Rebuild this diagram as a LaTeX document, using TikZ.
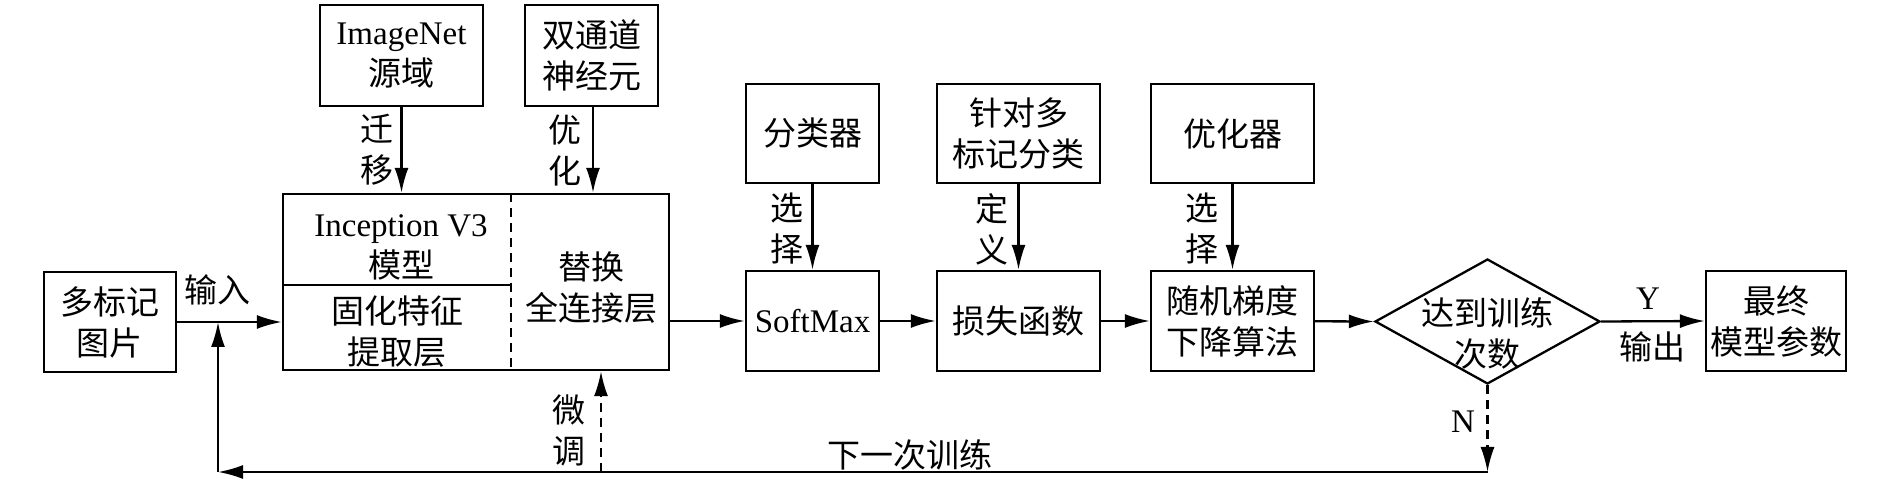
\documentclass[tikz,border=0pt]{standalone}
\usepackage{fontspec}
\setmainfont{Liberation Serif}
\newfontfamily\cjk{Noto Sans CJK SC}
\usetikzlibrary{arrows.meta,shapes.geometric}

\begin{document}
\begin{tikzpicture}[x=0.5pt,y=-0.5pt,>={Latex[length=12.5pt,width=7pt]},line join=miter]
\useasboundingbox[fill=white] (0,0) rectangle (1890,480);
\tikzset{box/.style={draw=black,line width=1.15pt,align=center,inner sep=0pt,font=\fontsize{16.5}{20.5}\selectfont},txt/.style={align=center,inner sep=0pt,font=\fontsize{16.5}{20.5}\selectfont},zh/.style={font=\fontsize{16.5}{20.5}\selectfont\cjk},wire/.style={draw=black,line width=1.15pt},dwire/.style={wire,dash pattern=on 4.5pt off 3pt}}
% boxes
\node[box,zh,minimum width=66pt,minimum height=50pt] (in) at (110,322) {多标记\\图片};
\node[box,minimum width=81.5pt,minimum height=50.5pt] (net) at (401.5,55.5) {ImageNet\\{\cjk 源域}};
\node[box,zh,minimum width=66.5pt,minimum height=50.5pt] (dual) at (591.5,55.5) {双通道\\神经元};
\node[box,minimum width=193pt,minimum height=88pt] (model) at (476,282) {};
\node[txt] (incep) at (401,247) {Inception V3\\{\cjk 模型}};
\node[txt,zh] (fixed) at (397,332) {固化特征\\提取层};
\node[txt,zh] (fc) at (591,288) {替换\\全连接层};
\draw[wire] (model.west |- 0,285) -- (511,285);
\draw[dwire] (model.north -| 511,0) -- (model.south -| 511,0);
\node[box,zh,minimum width=66.5pt,minimum height=49.5pt] (cls) at (812.5,133.5) {分类器};
\node[box,minimum width=66.5pt,minimum height=50pt] (soft) at (812.5,321) {SoftMax};
\node[box,zh,minimum width=81.5pt,minimum height=49.5pt] (lossdef) at (1018.5,133.5) {针对多\\标记分类};
\node[box,zh,minimum width=81.5pt,minimum height=50pt] (loss) at (1018.5,321) {损失函数};
\node[box,zh,minimum width=81.5pt,minimum height=49.5pt] (opt) at (1232.5,133.5) {优化器};
\node[box,zh,minimum width=81.5pt,minimum height=50pt] (sgd) at (1232.5,321) {随机梯度\\下降算法};
\node[draw=black,line width=1.15pt,diamond,inner sep=0pt,minimum width=112.5pt,minimum height=62.5pt] (chk) at (1487.5,321.5) {};
\node[txt,zh] (chktxt) at (1487,333) {达到训练\\次数};
\node[box,zh,minimum width=70pt,minimum height=50pt] (final) at (1776,321) {最终\\模型参数};
% connectors
\coordinate (back) at (1487.5,472);
\coordinate (corner) at (218,472);
\coordinate (tune) at (601,472);
\draw[wire,->] (in.east) -- (in.east -| model.west);
\draw[wire,->] (net) -- (net |- model.north);
\draw[wire,->] (dual.south -| 593,0) -- (model.north -| 593,0);
\draw[wire,->] (model.east |- soft) -- (soft.west);
\draw[wire,->] (cls) -- (soft);
\draw[wire,->] (lossdef) -- (loss);
\draw[wire,->] (opt) -- (sgd);
\draw[wire,->] (soft) -- (loss);
\draw[wire,->] (loss) -- (sgd);
\draw[wire,->] (sgd) -- (chk.west);
\draw[wire,->] (chk.east) -- (final.west);
\draw[dwire,->] (chk.south) -- (back);
\draw[wire,->] (back) -- (corner);
\draw[wire,->] (corner) -- (corner |- in.east);
\draw[dwire,->] (tune) -- (tune |- model.south);
% labels
\node[txt,zh] (lin) at (217,290) {输入};
\node[txt,zh] (lmove) at (377,150) {迁\\移};
\node[txt,zh] (lopt) at (565,150) {优\\化};
\node[txt,zh] (lsel) at (787,229) {选\\择};
\node[txt,zh] (ldef) at (992,229) {定\\义};
\node[txt,zh] (lsel2) at (1202,229) {选\\择};
\node[txt,zh] (ltune) at (569,430) {微\\调};
\node[txt] (ly) at (1648,299) {Y};
\node[txt,zh] (lout) at (1652,347) {输出};
\node[txt] (ln) at (1463,422) {N};
\node[txt,zh] (lnext) at (910,455) {下一次训练};
\end{tikzpicture}
\end{document}
